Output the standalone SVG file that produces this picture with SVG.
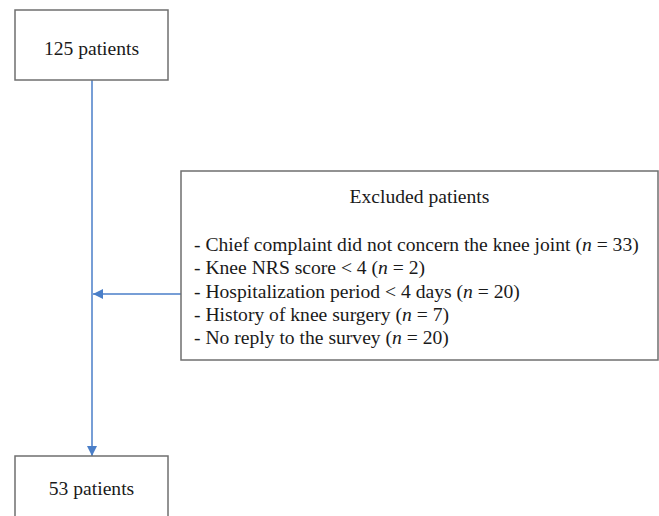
<svg xmlns="http://www.w3.org/2000/svg" width="659" height="516" viewBox="0 0 659 516">
<style>
.box{fill:#fff;stroke:#6f6f6f;stroke-width:1.5}
.t{font-family:"Liberation Serif","Times New Roman",serif;font-size:19.6px;fill:#1a1a1a}
.c{stroke:#4a7ec8;stroke-width:1.5;fill:none}
</style>
<defs>
<marker id="ah" viewBox="0 0 10 10" refX="10" refY="5" markerWidth="10" markerHeight="10" markerUnits="userSpaceOnUse" orient="auto">
<path d="M0,0 L10,5 L0,10 Z" fill="#4a7ec8"/>
</marker>
</defs>
<rect width="659" height="516" fill="#fff"/>
<g id="connectors">
<line class="c" x1="92" y1="80" x2="92" y2="456" marker-end="url(#ah)"/>
<line class="c" x1="181" y1="294" x2="93" y2="294" marker-end="url(#ah)"/>
</g>
<g id="n1">
<rect class="box" x="15" y="10" width="153" height="70"/>
<text class="t" x="91.5" y="55" text-anchor="middle">125 patients</text>
</g>
<g id="n2">
<rect class="box" x="181" y="171" width="477" height="189"/>
<text class="t" x="419.5" y="203" text-anchor="middle">Excluded patients</text>
<text class="t" x="194" y="251">- Chief complaint did not concern the knee joint (<tspan font-style="italic">n</tspan> = 33)</text>
<text class="t" x="194" y="274">- Knee NRS score &lt; 4 (<tspan font-style="italic">n</tspan> = 2)</text>
<text class="t" x="194" y="298">- Hospitalization period &lt; 4 days (<tspan font-style="italic">n</tspan> = 20)</text>
<text class="t" x="194" y="321">- History of knee surgery (<tspan font-style="italic">n</tspan> = 7)</text>
<text class="t" x="194" y="344">- No reply to the survey (<tspan font-style="italic">n</tspan> = 20)</text>
</g>
<g id="n3">
<rect class="box" x="15" y="456" width="153" height="70"/>
<text class="t" x="91.5" y="495" text-anchor="middle">53 patients</text>
</g>
</svg>
